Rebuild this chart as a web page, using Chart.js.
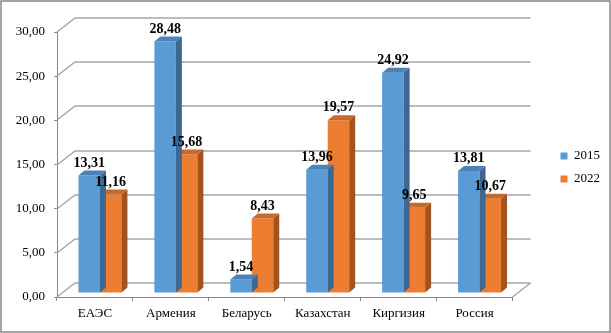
<!DOCTYPE html>
<html lang="ru">
<head>
<meta charset="UTF-8">
<title>ЕАЭС 2015 / 2022</title>
<script src="https://cdn.jsdelivr.net/npm/chart.js"></script>
<style>
  html, body { margin: 0; padding: 0; background: #fff; }
  canvas { display: block; }
</style>
</head>
<body>
<canvas id="chart" width="611" height="333"></canvas>
<script>
// данные
const categories = ['ЕАЭС', 'Армения', 'Беларусь', 'Казахстан', 'Киргизия', 'Россия'];
const values2015 = [13.31, 28.48, 1.54, 13.96, 24.92, 13.81];
const values2022 = [11.16, 15.68, 8.43, 19.57, 9.65, 10.67];
const seriesNames = ['2015', '2022'];
const yTicks = [0, 5, 10, 15, 20, 25, 30];

const SERIF = '"Liberation Serif", "Times New Roman", serif';

// смещения для псевдо-3D
const WALL_DX = 18, WALL_DY = -14;   // передняя плоскость осей -> задняя стенка
const BAR_DX = 5, BAR_DY = -4;       // передняя плоскость осей -> лицевая грань столбцов
const DEPTH_DX = 6, DEPTH_DY = -5;   // глубина столбца

const colors = [
  { front: '#5b9bd5', top: '#4c82b6', side: '#3d6892' },
  { front: '#ed7d31', top: '#c8692a', side: '#a15420' }
];
const GRID = '#a6a6a6';
const AXIS = '#868686';

const fmt = v => v.toFixed(2).replace('.', ',');

// стенки, пол и линии сетки
const wallsPlugin = {
  id: 'walls',
  beforeDatasetsDraw(chart) {
    const { ctx, chartArea: a, scales: { y } } = chart;
    ctx.save();
    ctx.strokeStyle = GRID;
    ctx.lineWidth = 1.5;
    yTicks.forEach(v => {
      const py = Math.round(y.getPixelForValue(v));
      ctx.beginPath();
      ctx.moveTo(a.left, py);
      ctx.lineTo(a.left + WALL_DX, py + WALL_DY);
      ctx.lineTo(a.right + WALL_DX, py + WALL_DY);
      ctx.stroke();
    });
    // правый край пола
    const py0 = Math.round(y.getPixelForValue(0));
    ctx.beginPath();
    ctx.moveTo(a.right + WALL_DX, py0 + WALL_DY);
    ctx.lineTo(a.right, py0);
    ctx.stroke();
    ctx.restore();

    // столбцы рисуются в сдвинутой плоскости
    ctx.save();
    ctx.translate(BAR_DX, BAR_DY);
  },
  afterDatasetDraw(chart, args) {
    const { ctx } = chart;
    const c = colors[args.index];
    args.meta.data.forEach(bar => {
      const { x, y, base, width } = bar.getProps(['x', 'y', 'base', 'width'], true);
      const l = x - width / 2, r = x + width / 2;
      ctx.fillStyle = c.top;
      ctx.beginPath();
      ctx.moveTo(l, y);
      ctx.lineTo(l + DEPTH_DX, y + DEPTH_DY);
      ctx.lineTo(r + DEPTH_DX, y + DEPTH_DY);
      ctx.lineTo(r, y);
      ctx.closePath();
      ctx.fill();
      ctx.fillStyle = c.side;
      ctx.beginPath();
      ctx.moveTo(r, y);
      ctx.lineTo(r + DEPTH_DX, y + DEPTH_DY);
      ctx.lineTo(r + DEPTH_DX, base + DEPTH_DY);
      ctx.lineTo(r, base);
      ctx.closePath();
      ctx.fill();
    });
  },
  afterDatasetsDraw(chart) {
    const { ctx } = chart;
    ctx.font = 'bold 14px ' + SERIF;
    ctx.fillStyle = '#000';
    ctx.textAlign = 'center';
    ctx.textBaseline = 'middle';
    chart.data.datasets.forEach((ds, i) => {
      chart.getDatasetMeta(i).data.forEach((bar, j) => {
        const { x, y } = bar.getProps(['x', 'y'], true);
        ctx.fillText(fmt(ds.data[j]), x, y - 12.5);
      });
    });
    ctx.restore();
  },
  afterDraw(chart) {
    const { ctx, width, height } = chart;
    ctx.save();
    ctx.strokeStyle = AXIS;
    ctx.lineWidth = 1.5;
    ctx.strokeRect(1, 1, width - 2, height - 2);
    ctx.restore();
  }
};

new Chart(document.getElementById('chart'), {
  type: 'bar',
  data: {
    labels: categories,
    datasets: [
      { label: seriesNames[0], data: values2015, backgroundColor: colors[0].front, borderWidth: 0, clip: false },
      { label: seriesNames[1], data: values2022, backgroundColor: colors[1].front, borderWidth: 0, clip: false }
    ]
  },
  options: {
    responsive: false,
    animation: false,
    devicePixelRatio: 1,
    layout: { padding: { top: 32, right: 1, bottom: 0, left: 0 } },
    datasets: { bar: { categoryPercentage: 0.566, barPercentage: 1 } },
    scales: {
      x: {
        grid: { display: true, drawOnChartArea: false, drawTicks: true, tickLength: 4, color: AXIS },
        border: { display: true, color: AXIS },
        ticks: { color: '#000', font: { family: SERIF, size: 13 }, padding: 5, maxRotation: 0 },
        afterFit: s => { s.height = 36; }
      },
      y: {
        min: 0,
        max: 30,
        grid: { display: true, drawOnChartArea: false, drawTicks: true, tickLength: 3, color: AXIS },
        border: { display: true, color: AXIS },
        ticks: {
          stepSize: 5,
          color: '#000',
          font: { family: SERIF, size: 13 },
          padding: 9,
          callback: v => fmt(v)
        },
        afterFit: s => { s.width = 57; }
      },
      gap: {
        type: 'linear',
        position: 'right',
        display: true,
        grid: { display: false },
        border: { display: false },
        ticks: { display: false },
        afterFit: s => { s.width = 38; }
      }
    },
    plugins: {
      legend: {
        position: 'right',
        fullSize: false,
        // пустой заголовок опускает подписи легенды на пару пикселей
        title: { display: true, text: '', padding: 0, font: { size: 5 } },
        labels: {
          boxWidth: 7,
          boxHeight: 7,
          padding: 10,
          color: '#000',
          font: { family: SERIF, size: 13 }
        }
      },
      tooltip: { enabled: false }
    }
  },
  plugins: [wallsPlugin]
});
</script>
</body>
</html>
